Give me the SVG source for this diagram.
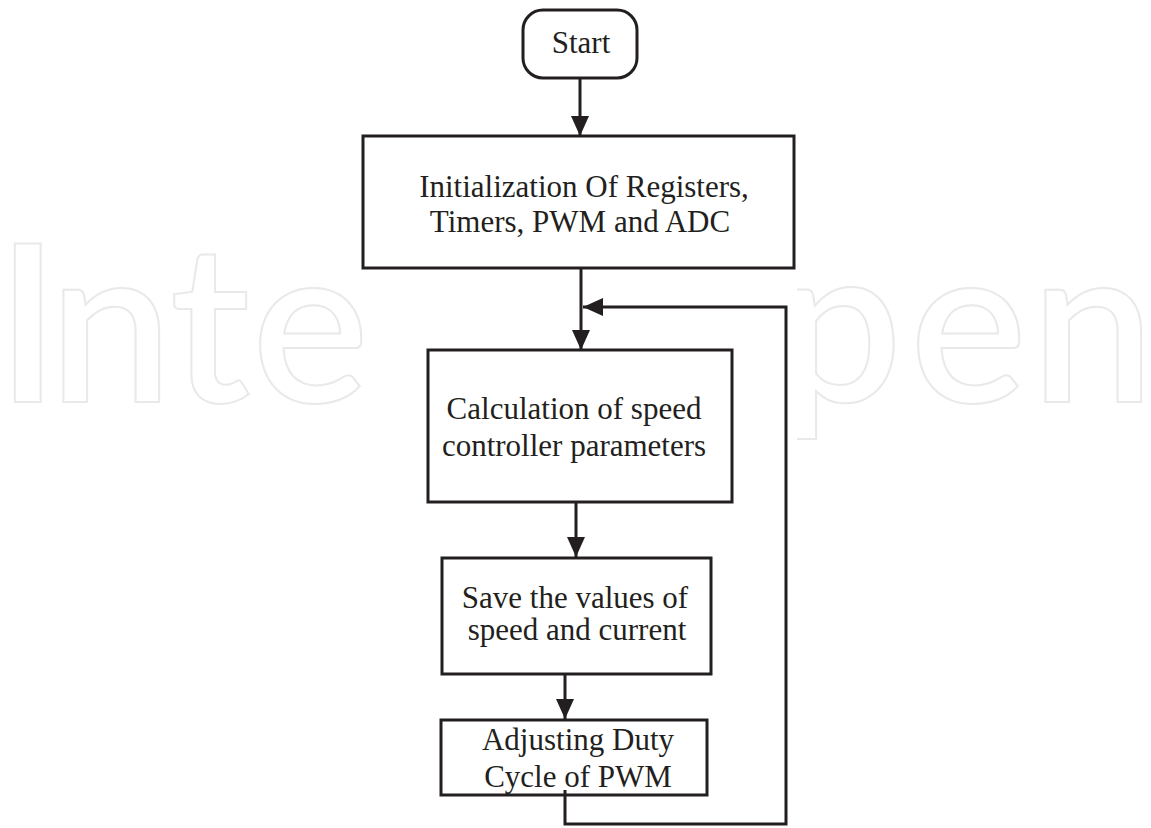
<svg xmlns="http://www.w3.org/2000/svg" width="1151" height="828" viewBox="0 0 1151 828">
<style>
.wm{font-family:Lato,"Open Sans",sans-serif;font-weight:600;font-size:220px;fill:none;stroke:#e9e9e9;stroke-width:2}
.box{fill:none;stroke:#231f20;stroke-width:3}
.lbl{font-family:"Liberation Serif","Times New Roman",serif;font-size:31px;fill:#231f20;text-anchor:middle}
.ln{fill:none;stroke:#231f20;stroke-width:3}
</style>
<defs>
<clipPath id="cl"><rect x="0" y="0" width="363" height="828"/></clipPath>
<clipPath id="cr"><rect x="797" y="0" width="354" height="828"/></clipPath>
<marker id="ah" markerWidth="20" markerHeight="20" viewBox="0 0 20 20" refX="20" refY="10" orient="auto" markerUnits="userSpaceOnUse">
<path d="M0,1 L20,10 L0,19 Z" fill="#231f20"/>
</marker>
</defs>
<rect width="1151" height="828" fill="#ffffff"/>
<g id="watermark">
<text class="wm" clip-path="url(#cl)" x="-4 49 170 252" y="402">Inte</text>
<text class="wm" clip-path="url(#cr)" x="778 910 1031" y="402">pen</text>
</g>
<g id="connectors">
<line class="ln" x1="580" y1="78" x2="580" y2="136" marker-end="url(#ah)"/>
<line class="ln" x1="581" y1="268" x2="581" y2="350" marker-end="url(#ah)"/>
<polyline class="ln" points="565,790 565,824 786,824 786,307 583,307" marker-end="url(#ah)"/>
<line class="ln" x1="576" y1="502" x2="576" y2="557" marker-end="url(#ah)"/>
<line class="ln" x1="565" y1="674" x2="565" y2="719" marker-end="url(#ah)"/>
</g>
<g id="start">
<rect class="box" x="523" y="10" width="114" height="68" rx="20"/>
<text class="lbl" x="581" y="53">Start</text>
</g>
<g id="init">
<rect class="box" x="363" y="136" width="431" height="132"/>
<text class="lbl" x="584" y="197">Initialization Of Registers,</text>
<text class="lbl" x="580" y="232">Timers, PWM and ADC</text>
</g>
<g id="calc">
<rect class="box" x="428" y="350" width="304" height="152"/>
<text class="lbl" x="574" y="419">Calculation of speed</text>
<text class="lbl" x="574" y="456">controller parameters</text>
</g>
<g id="save">
<rect class="box" x="442" y="558" width="269" height="116"/>
<text class="lbl" x="575" y="608">Save the values of</text>
<text class="lbl" x="577" y="640">speed and current</text>
</g>
<g id="adjust">
<rect class="box" x="441" y="720" width="266" height="75"/>
<text class="lbl" x="578" y="750">Adjusting Duty</text>
<text class="lbl" x="578" y="787">Cycle of PWM</text>
</g>
</svg>
